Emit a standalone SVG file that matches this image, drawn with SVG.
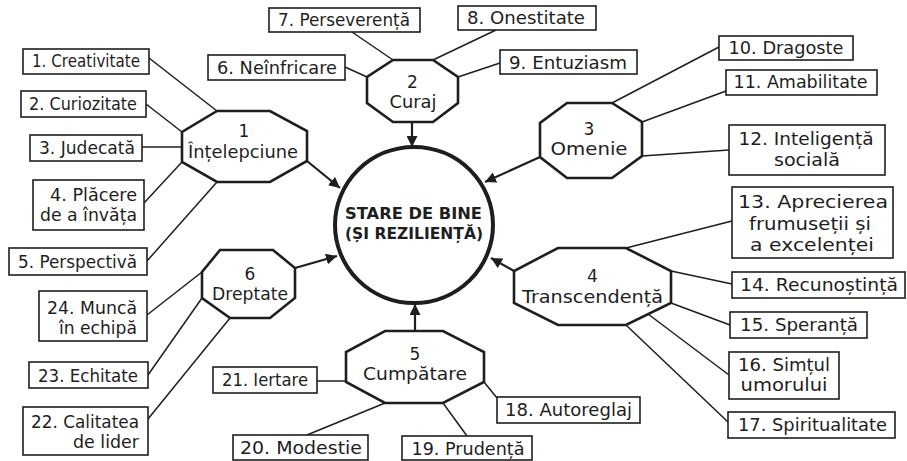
<svg xmlns="http://www.w3.org/2000/svg" width="907" height="461" viewBox="0 0 907 461">
<style>
text{font-family:"DejaVu Sans","Liberation Sans",sans-serif;font-size:17px;fill:#1e1e1e}
.m{text-anchor:middle}
.e{text-anchor:end}
.b{font-weight:bold;font-size:16px}
.box{fill:#fff;stroke:#1e1e1e;stroke-width:1.6}
.oct{fill:#fff;stroke:#1e1e1e;stroke-width:2.6}
.ln{stroke:#1e1e1e;stroke-width:1.5;fill:none}
.ar{stroke:#1e1e1e;stroke-width:2.2;fill:none;marker-end:url(#ah)}
</style>
<defs>
<marker id="ah" viewBox="0 0 10 10" refX="10" refY="5" markerWidth="5" markerHeight="5" orient="auto" markerUnits="strokeWidth">
<path d="M0,0 L10,5 L0,10 z" fill="#1e1e1e"/>
</marker>
</defs>
<rect width="907" height="461" fill="#fff"/>
<g id="connectors">
<line class="ln" x1="149" y1="58" x2="217" y2="111"/>
<line class="ln" x1="146" y1="104" x2="182" y2="132"/>
<line class="ln" x1="142" y1="147" x2="182" y2="147"/>
<line class="ln" x1="144" y1="203" x2="182" y2="162"/>
<line class="ln" x1="147" y1="261" x2="217" y2="182"/>
<line class="ln" x1="345" y1="67" x2="367" y2="77"/>
<line class="ln" x1="352" y1="32" x2="393" y2="60"/>
<line class="ln" x1="496" y1="30" x2="433" y2="60"/>
<line class="ln" x1="500" y1="63" x2="458" y2="77"/>
<line class="ln" x1="719" y1="47" x2="612" y2="103"/>
<line class="ln" x1="726" y1="91" x2="642" y2="122"/>
<line class="ln" x1="729" y1="150" x2="642" y2="156"/>
<line class="ln" x1="732" y1="221" x2="626" y2="248"/>
<line class="ln" x1="732" y1="284" x2="671" y2="271"/>
<line class="ln" x1="730" y1="325" x2="671" y2="303"/>
<line class="ln" x1="729" y1="375" x2="648" y2="314"/>
<line class="ln" x1="728" y1="422" x2="626" y2="325"/>
<line class="ln" x1="484" y1="382" x2="497" y2="398"/>
<line class="ln" x1="467" y1="436" x2="443" y2="403"/>
<line class="ln" x1="307" y1="435" x2="385" y2="403"/>
<line class="ln" x1="317" y1="381" x2="346" y2="381"/>
<line class="ln" x1="148" y1="419" x2="230" y2="318"/>
<line class="ln" x1="148" y1="375" x2="202" y2="298"/>
<line class="ln" x1="147" y1="315" x2="202" y2="272"/>
<line class="ar" x1="307" y1="161" x2="340" y2="188"/>
<line class="ar" x1="412" y1="122" x2="412" y2="147"/>
<line class="ar" x1="540" y1="157" x2="485" y2="182"/>
<line class="ar" x1="514" y1="271" x2="491" y2="258"/>
<line class="ar" x1="415" y1="331" x2="415" y2="304"/>
<line class="ar" x1="295" y1="268" x2="337" y2="256"/>
</g>
<g id="center">
<ellipse cx="414" cy="225" rx="79" ry="78" fill="#fff" stroke="#1e1e1e" stroke-width="4"/>
<text class="m b" x="413.5" y="219" textLength="137" lengthAdjust="spacingAndGlyphs">STARE DE BINE</text>
<text class="m b" x="414" y="239" textLength="138" lengthAdjust="spacingAndGlyphs">(ȘI REZILIENȚĂ)</text>
</g>
<g id="oct1">
<polygon class="oct" points="217,111 270,111 307,131 307,161 270,182 217,182 182,162 182,132"/>
<text class="m" x="244" y="137">1</text>
<text class="m" x="243" y="158" textLength="110" lengthAdjust="spacingAndGlyphs">Înțelepciune</text>
</g>
<g id="oct2">
<polygon class="oct" points="393,60 433,60 458,77 458,103 433,122 393,122 367,103 367,77"/>
<text class="m" x="412.5" y="88">2</text>
<text class="m" x="413" y="108" textLength="47" lengthAdjust="spacingAndGlyphs">Curaj</text>
</g>
<g id="oct3">
<polygon class="oct" points="567,103 612,103 642,122 642,156 612,178 567,178 540,157 540,123"/>
<text class="m" x="589" y="135">3</text>
<text class="m" x="589" y="155" textLength="77" lengthAdjust="spacingAndGlyphs">Omenie</text>
</g>
<g id="oct4">
<polygon class="oct" points="558,248 626,248 671,271 671,303 626,325 558,325 514,303 514,271"/>
<text class="m" x="592.5" y="282">4</text>
<text class="m" x="592.5" y="303" textLength="141" lengthAdjust="spacingAndGlyphs">Transcendență</text>
</g>
<g id="oct5">
<polygon class="oct" points="385,331 443,331 484,352 484,382 443,403 385,403 346,382 346,352"/>
<text class="m" x="415" y="360">5</text>
<text class="m" x="415" y="380" textLength="104" lengthAdjust="spacingAndGlyphs">Cumpătare</text>
</g>
<g id="oct6">
<polygon class="oct" points="220,250 273,250 295,268 295,298 270,318 230,318 202,298 202,272"/>
<text class="m" x="250" y="280">6</text>
<text class="m" x="250" y="300" textLength="76" lengthAdjust="spacingAndGlyphs">Dreptate</text>
</g>
<g id="b1"><rect class="box" x="23" y="49" width="126" height="25"/><text class="m" x="86" y="67" textLength="108" lengthAdjust="spacingAndGlyphs">1. Creativitate</text></g>
<g id="b2"><rect class="box" x="21" y="91" width="125" height="26"/><text class="m" x="83" y="110" textLength="108" lengthAdjust="spacingAndGlyphs">2. Curiozitate</text></g>
<g id="b3"><rect class="box" x="30" y="135" width="112" height="26"/><text class="m" x="87" y="154" textLength="96" lengthAdjust="spacingAndGlyphs">3. Judecată</text></g>
<g id="b4"><rect class="box" x="33" y="180" width="111" height="50"/><text class="e" x="137" y="201" textLength="87" lengthAdjust="spacingAndGlyphs">4. Plăcere</text><text class="e" x="137" y="221" textLength="97" lengthAdjust="spacingAndGlyphs">de a învăța</text></g>
<g id="b5"><rect class="box" x="9" y="248" width="138" height="27"/><text class="m" x="77.5" y="268" textLength="119" lengthAdjust="spacingAndGlyphs">5. Perspectivă</text></g>
<g id="b6"><rect class="box" x="208" y="55" width="137" height="25"/><text class="m" x="277" y="74" textLength="120" lengthAdjust="spacingAndGlyphs">6. Neînfricare</text></g>
<g id="b7"><rect class="box" x="269" y="8" width="151" height="24"/><text class="m" x="344" y="26" textLength="132" lengthAdjust="spacingAndGlyphs">7. Perseverență</text></g>
<g id="b8"><rect class="box" x="458" y="6" width="138" height="24"/><text class="m" x="526" y="24" textLength="118" lengthAdjust="spacingAndGlyphs">8. Onestitate</text></g>
<g id="b9"><rect class="box" x="500" y="50" width="137" height="24"/><text class="m" x="568" y="69" textLength="118" lengthAdjust="spacingAndGlyphs">9. Entuziasm</text></g>
<g id="b10"><rect class="box" x="719" y="36" width="134" height="24"/><text class="m" x="786" y="54" textLength="115" lengthAdjust="spacingAndGlyphs">10. Dragoste</text></g>
<g id="b11"><rect class="box" x="726" y="70" width="151" height="25"/><text class="m" x="800.5" y="88" textLength="134" lengthAdjust="spacingAndGlyphs">11. Amabilitate</text></g>
<g id="b12"><rect class="box" x="729" y="125" width="156" height="50"/><text class="m" x="806" y="145" textLength="135" lengthAdjust="spacingAndGlyphs">12. Inteligență</text><text class="m" x="807" y="166" textLength="66" lengthAdjust="spacingAndGlyphs">socială</text></g>
<g id="b13"><rect class="box" x="732" y="187" width="161" height="71"/><text class="m" x="813" y="208" textLength="150" lengthAdjust="spacingAndGlyphs">13. Aprecierea</text><text class="m" x="810" y="229.5" textLength="122" lengthAdjust="spacingAndGlyphs">frumuseții și</text><text class="m" x="812" y="251" textLength="124" lengthAdjust="spacingAndGlyphs">a excelenței</text></g>
<g id="b14"><rect class="box" x="732" y="272" width="173" height="26"/><text class="m" x="819" y="291" textLength="158" lengthAdjust="spacingAndGlyphs">14. Recunoștință</text></g>
<g id="b15"><rect class="box" x="730" y="312" width="137" height="26"/><text class="m" x="799" y="331" textLength="118" lengthAdjust="spacingAndGlyphs">15. Speranță</text></g>
<g id="b16"><rect class="box" x="729" y="352" width="110" height="47"/><text class="m" x="784" y="371" textLength="92" lengthAdjust="spacingAndGlyphs">16. Simțul</text><text class="m" x="784" y="391" textLength="87" lengthAdjust="spacingAndGlyphs">umorului</text></g>
<g id="b17"><rect class="box" x="728" y="412" width="167" height="26"/><text class="m" x="812.5" y="431" textLength="149" lengthAdjust="spacingAndGlyphs">17. Spiritualitate</text></g>
<g id="b18"><rect class="box" x="497" y="397" width="143" height="26"/><text class="m" x="568.5" y="416" textLength="127" lengthAdjust="spacingAndGlyphs">18. Autoreglaj</text></g>
<g id="b19"><rect class="box" x="402" y="436" width="130" height="24"/><text class="m" x="468" y="455" textLength="113" lengthAdjust="spacingAndGlyphs">19. Prudență</text></g>
<g id="b20"><rect class="box" x="233" y="435" width="135" height="25"/><text class="m" x="301" y="454" textLength="122" lengthAdjust="spacingAndGlyphs">20. Modestie</text></g>
<g id="b21"><rect class="box" x="213" y="367" width="104" height="26"/><text class="m" x="265" y="386" textLength="86" lengthAdjust="spacingAndGlyphs">21. Iertare</text></g>
<g id="b22"><rect class="box" x="23" y="407" width="125" height="48"/><text class="e" x="139" y="428" textLength="108" lengthAdjust="spacingAndGlyphs">22. Calitatea</text><text class="e" x="139" y="448" textLength="66" lengthAdjust="spacingAndGlyphs">de lider</text></g>
<g id="b23"><rect class="box" x="29" y="362" width="119" height="26"/><text class="m" x="88" y="382" textLength="100" lengthAdjust="spacingAndGlyphs">23. Echitate</text></g>
<g id="b24"><rect class="box" x="39" y="291" width="108" height="50"/><text class="e" x="137" y="314" textLength="90" lengthAdjust="spacingAndGlyphs">24. Muncă</text><text class="e" x="137" y="334" textLength="78" lengthAdjust="spacingAndGlyphs">în echipă</text></g>
</svg>
